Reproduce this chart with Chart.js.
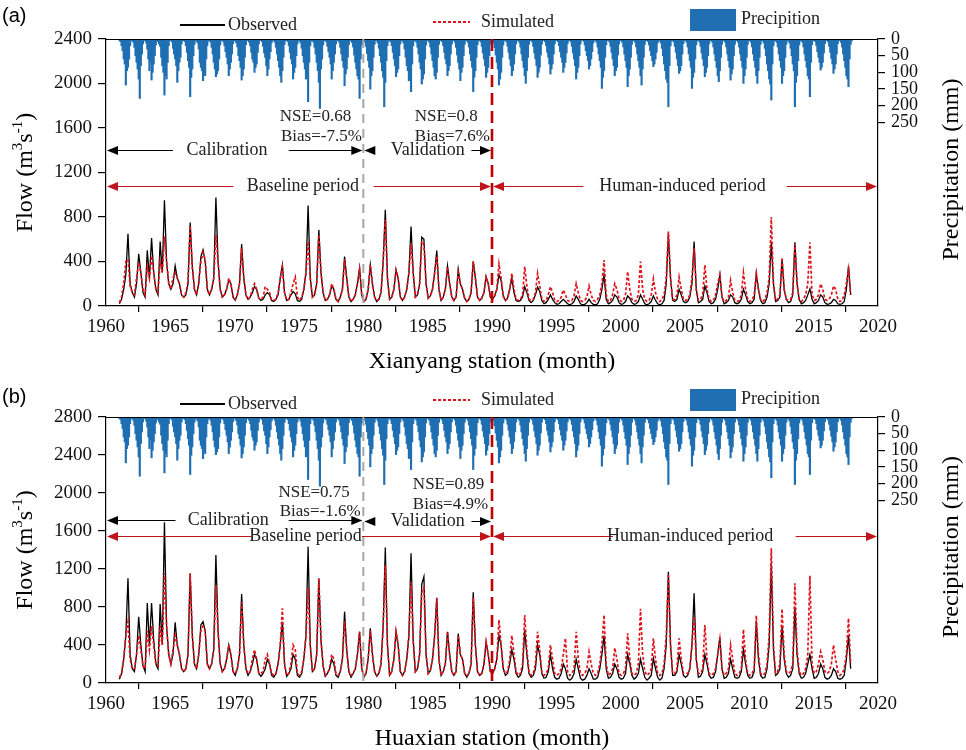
<!DOCTYPE html>
<html lang="en">
<head>
<meta charset="UTF-8">
<title>Observed vs simulated flow - Xianyang and Huaxian</title>
<style>
  body { margin: 0; background: #fff; }
  canvas { display: block; }
</style>
</head>
<body>
<canvas id="xianyangChart" width="966" height="375"></canvas>
<canvas id="huaxianChart" width="966" height="375"></canvas>

<script src="https://cdn.jsdelivr.net/npm/chart.js"></script>
<script>
  // monthly series from 1961 to 2017; flows read every second month
  const firstYear = 1961;
  const flowMonths = [0, 2, 4, 6, 8, 10];
  const yearTicks = [1960, 1965, 1970, 1975, 1980, 1985, 1990, 1995, 2000, 2005, 2010, 2015, 2020];
  const flowTicksXianyang = [0, 400, 800, 1200, 1600, 2000, 2400];
  const flowTicksHuaxian = [0, 400, 800, 1200, 1600, 2000, 2400, 2800];
  const precipTicks = [0, 50, 100, 150, 200, 250];

  const obsXianyang = [
    // 1961-1970
    20,60,150,280,650,200, 120,80,200,470,300,120, 80,500,250,610,300,150, 100,580,300,950,400,200,
    150,200,360,250,200,100, 80,100,200,750,350,150, 100,200,444,504,400,150, 100,150,250,975,400,150,
    80,100,150,234,200,80, 50,100,200,558,250,100,
    // 1971-1980
    60,80,120,174,150,70, 50,60,100,120,100,50, 40,60,100,250,369,120, 50,60,100,130,110,50,
    40,60,150,300,903,250, 80,100,200,684,300,120, 50,60,100,180,150,60, 40,80,150,444,250,80,
    40,60,100,200,342,100, 40,60,150,369,200,80,
    // 1981-1990
    40,60,120,400,864,250, 60,80,150,324,250,80, 50,80,150,300,714,300, 80,100,200,618,600,200,
    70,90,150,300,498,150, 50,80,150,360,200,80, 50,80,330,200,150,70, 40,60,120,402,250,80,
    50,70,120,264,200,80, 60,90,150,280,230,90,
    // 1991-2000
    50,70,150,250,120,50, 40,50,80,174,120,50, 30,50,100,170,130,50, 20,30,60,100,60,30,
    15,20,40,60,40,20, 10,20,40,90,60,20, 10,15,30,60,30,15, 10,20,60,150,280,60,
    20,30,50,100,80,30, 15,20,40,90,70,30,
    // 2001-2010
    15,20,40,100,60,20, 10,20,40,90,50,20, 10,20,50,200,651,250, 50,40,60,150,100,40,
    30,40,80,200,579,150, 30,40,60,180,120,40, 20,30,60,150,279,80, 20,30,50,100,80,30,
    20,30,60,150,100,40, 20,30,60,290,150,50,
    // 2011-2017
    20,30,80,200,570,200, 40,50,80,420,150,60, 30,40,100,573,200,60, 20,30,50,100,153,60,
    20,30,50,100,80,30, 15,20,30,60,50,20, 15,20,40,150,360,100
  ];

  const simXianyang = [
    // 1961-1970
    30,80,200,400,420,180, 120,100,250,390,300,150, 100,350,250,450,300,150, 120,400,300,624,400,200,
    150,250,300,250,200,100, 80,120,220,720,350,150, 100,220,400,480,420,150, 100,150,250,639,400,150,
    80,100,150,250,200,80, 60,100,200,520,250,100,
    // 1971-1980
    60,80,150,200,150,70, 60,80,174,150,120,50, 50,60,120,250,350,120, 50,60,120,200,260,80,
    50,80,150,300,579,250, 80,100,200,640,300,120, 50,60,100,200,150,60, 40,80,150,420,250,80,
    40,60,100,200,330,100, 40,60,150,370,200,80,
    // 1981-1990
    50,60,120,400,774,250, 60,80,150,324,250,80, 50,80,150,300,564,300, 80,100,200,580,550,200,
    70,90,150,300,450,150, 50,80,150,350,200,80, 50,80,300,200,150,70, 40,60,120,400,250,80,
    50,70,120,260,200,80, 60,90,150,378,250,90,
    // 1991-2000
    50,70,150,294,150,60, 50,60,100,354,180,60, 50,60,120,294,180,60, 40,50,100,174,120,50,
    40,50,80,144,100,50, 40,50,90,200,120,50, 40,50,80,180,100,50, 40,60,100,200,414,100,
    40,50,100,200,150,60, 40,50,100,309,150,60,
    // 2001-2010
    40,50,100,399,150,60, 40,50,100,243,120,60, 40,60,100,250,669,250, 60,60,100,261,150,60,
    50,60,100,250,519,150, 50,60,100,369,150,60, 40,50,100,200,282,80, 40,50,80,230,120,50,
    40,50,100,300,150,60, 40,50,100,291,150,60,
    // 2011-2017
    40,60,120,250,798,200, 50,60,100,435,150,60, 50,60,120,560,200,60, 40,60,100,200,573,100,
    50,60,100,200,150,60, 50,60,100,180,150,60, 40,50,100,200,330,100
  ];

  const obsHuaxian = [
    // 1961-1970
    40,100,250,500,1102,300, 150,120,300,698,400,180, 120,842,400,842,450,200, 150,832,400,1692,600,300,
    200,300,640,400,300,150, 120,150,300,1155,500,200, 150,300,611,645,550,200, 150,200,350,1348,550,200,
    120,150,250,400,300,120, 80,150,300,937,400,150,
    // 1971-1980
    80,120,200,300,250,100, 70,100,150,250,200,80, 60,100,200,400,645,200, 70,100,150,300,250,80,
    60,100,250,500,1435,400, 120,150,300,1102,450,180, 70,100,150,250,200,80, 60,120,250,751,350,120,
    60,100,150,300,540,150, 60,100,250,576,300,120,
    // 1981-1990
    70,100,200,600,1425,400, 80,120,250,540,400,120, 80,120,250,500,1365,450, 120,150,300,1042,1120,300,
    100,130,250,500,898,250, 80,120,200,540,300,120, 80,120,520,300,250,100, 60,100,200,955,400,120,
    80,100,200,430,300,120, 100,150,250,500,400,150,
    // 1991-2000
    80,100,200,350,250,100, 60,80,150,550,300,100, 60,80,150,400,300,100, 50,60,120,300,150,60,
    40,50,100,200,150,50, 30,50,100,250,150,50, 30,40,80,150,100,40, 40,60,150,300,500,150,
    50,60,100,200,150,60, 40,50,100,300,200,80,
    // 2001-2010
    40,60,100,250,150,60, 30,50,80,260,150,60, 30,50,150,400,1172,400, 80,80,120,300,200,80,
    60,80,150,400,944,250, 60,70,120,300,200,80, 50,60,120,300,480,150, 50,60,100,250,150,60,
    50,60,120,350,200,80, 50,60,120,650,250,80,
    // 2011-2017
    50,60,150,400,1250,350, 80,100,150,600,250,100, 60,80,150,800,300,100, 50,60,100,200,300,150,
    50,60,100,200,150,60, 40,50,80,150,120,50, 40,50,80,250,500,150
  ];

  const simHuaxian = [
    // 1961-1970
    60,100,250,500,645,250, 150,150,300,500,350,180, 150,550,350,600,400,200, 180,600,400,1155,600,300,
    200,350,500,400,300,150, 120,150,300,1150,500,200, 150,300,550,600,550,200, 150,200,350,1032,550,200,
    120,150,250,400,300,120, 100,150,300,850,400,150,
    // 1971-1980
    100,120,250,350,250,100, 100,120,250,300,200,100, 80,100,200,400,786,200, 80,100,200,400,350,100,
    80,120,250,500,1000,400, 120,150,300,1100,450,180, 80,100,150,300,250,100, 80,120,250,650,350,120,
    80,100,150,300,540,150, 80,100,250,550,300,120,
    // 1981-1990
    80,100,200,600,1240,400, 80,120,250,540,400,120, 80,120,250,500,1060,450, 120,150,300,950,1000,300,
    100,130,250,500,890,250, 80,120,200,540,300,120, 80,120,500,300,250,100, 80,100,200,900,400,120,
    80,100,200,430,300,120, 100,150,250,663,400,150,
    // 1991-2000
    100,120,250,500,300,120, 80,100,200,716,350,120, 80,100,200,540,350,120, 80,100,150,400,250,100,
    80,100,150,300,470,120, 80,100,150,540,250,100, 80,100,150,330,200,100, 80,100,200,400,716,200,
    80,100,150,370,250,100, 80,100,150,523,250,100,
    // 2001-2010
    80,100,200,780,300,120, 80,100,150,470,250,100, 80,100,200,500,1150,400, 100,100,150,470,250,100,
    100,100,150,400,700,250, 100,100,150,611,250,100, 80,100,150,300,460,150, 80,100,150,400,250,100,
    80,100,150,565,250,100, 80,100,150,709,300,100,
    // 2011-2017
    80,100,200,500,1418,400, 100,120,200,780,300,120, 100,120,200,1049,350,120, 80,100,150,300,1130,200,
    100,120,200,330,250,120, 100,120,200,400,250,120, 80,100,150,300,681,200
  ];

  // monthly precipitation (mm), Jan..Dec for each year
  const precipMonthly = [
    4,8,20,35,60,75,138,95,85,60,20,5,   6,10,25,50,70,90,120,178,80,45,15,4,
    5,12,30,60,95,70,123,100,75,50,18,6, 8,15,22,55,80,100,168,110,120,70,20,5,
    4,9,28,45,60,80,130,95,70,55,15,5,   5,8,20,40,65,85,173,115,90,50,16,4,
    7,12,30,70,85,95,125,100,110,60,20,6, 5,10,25,45,70,90,113,105,95,60,18,5,
    4,9,20,38,55,75,110,90,70,45,14,4,   6,11,24,50,65,85,123,110,90,55,17,5,
    5,10,20,40,60,70,100,85,75,40,15,4,  4,8,22,42,55,80,110,90,60,38,12,4,
    5,10,25,45,65,85,110,130,95,55,16,5, 4,8,20,40,60,75,120,100,85,50,15,4,
    6,12,28,50,70,90,120,110,188,70,20,6, 5,10,25,45,70,95,130,208,90,60,18,5,
    4,9,22,38,55,75,120,95,70,45,15,4,   5,10,25,45,65,85,140,105,90,55,17,5,
    6,11,24,48,70,90,110,120,178,60,18,5, 5,10,22,44,65,85,150,110,95,55,16,5,
    6,12,28,50,70,95,115,203,130,65,20,6, 4,9,20,40,60,80,113,100,90,50,15,4,
    6,12,30,55,80,95,125,110,158,75,20,6, 5,10,25,45,70,90,135,120,105,60,18,5,
    5,10,24,45,65,85,110,120,100,55,16,5, 4,9,20,40,60,75,110,95,80,45,15,4,
    5,10,25,48,70,90,125,100,85,50,16,5, 5,10,24,45,65,85,158,115,95,55,17,5,
    4,9,22,42,60,80,115,100,85,50,15,4,  6,11,26,48,70,90,138,120,100,55,18,5,
    4,9,22,40,60,80,110,95,75,45,15,4,   5,10,24,45,65,85,110,133,95,55,16,5,
    4,9,22,42,60,80,115,100,85,48,15,4,  4,8,20,40,55,75,105,90,75,45,14,4,
    4,8,20,38,55,70,100,85,70,42,14,4,   5,9,22,42,60,80,120,100,85,50,15,4,
    3,7,18,35,50,65,90,80,60,38,12,3,    5,10,24,45,65,85,148,115,95,55,17,5,
    4,9,22,40,60,80,110,95,85,48,15,4,   5,10,24,45,65,85,143,110,90,55,16,5,
    5,10,24,45,65,85,110,138,90,55,16,5, 4,8,18,35,50,65,83,75,60,40,12,3,
    6,12,28,50,75,95,120,130,203,80,20,6, 4,9,22,40,60,80,103,95,80,45,14,4,
    5,10,24,45,65,85,148,115,100,60,17,5, 4,9,22,42,60,80,113,100,85,50,15,4,
    5,10,24,45,65,85,110,128,95,55,16,5, 5,10,24,45,65,85,123,105,90,50,16,5,
    5,10,24,45,65,85,133,110,90,55,16,5, 5,10,24,45,65,85,110,133,95,55,16,5,
    6,12,28,50,75,95,120,135,183,75,20,6, 5,10,24,45,65,85,133,110,95,55,16,5,
    6,12,28,50,75,95,203,130,110,65,18,6, 5,10,24,45,65,85,110,120,173,70,17,5,
    4,8,20,38,55,70,93,85,70,42,14,4,    4,9,22,40,58,75,103,90,75,45,14,4,
    5,10,24,45,65,85,110,120,143,60,16,5
  ];

  const serif = '"Liberation Serif", "Times New Roman", serif';
  const blue = '#1f6fb2';
  const red = '#e0141c';
  const darkRed = '#c0141c';

  function flowPoints(values) {
    return values.map((v, i) => ({
      x: firstYear + Math.floor(i / flowMonths.length) + (flowMonths[i % flowMonths.length] + 0.5) / 12,
      y: v
    }));
  }
  function precipPoints(values) {
    return values.map((v, i) => ({ x: firstYear + Math.floor(i / 12) + (i % 12 + 0.5) / 12, y: v }));
  }

  function arrowHead(ctx, x, y, dir, color) {
    ctx.fillStyle = color;
    ctx.beginPath();
    ctx.moveTo(x, y);
    ctx.lineTo(x - dir * 11, y - 4.5);
    ctx.lineTo(x - dir * 11, y + 4.5);
    ctx.closePath();
    ctx.fill();
  }

  // periods: label with the two line pieces round it, in data units
  function drawPeriod(ctx, X, Y, p) {
    const y = Math.round(Y(p.y)) + 0.5;
    ctx.strokeStyle = p.color;
    ctx.lineWidth = 1.2;
    ctx.beginPath();
    ctx.moveTo(X(p.from) + 2, y); ctx.lineTo(X(p.gap[0]), y);
    ctx.moveTo(X(p.gap[1]), y); ctx.lineTo(X(p.to) - 2, y);
    ctx.stroke();
    arrowHead(ctx, X(p.from) + 1, y, -1, p.color);
    arrowHead(ctx, X(p.to) - 1, y, 1, p.color);
    ctx.fillStyle = '#222';
    ctx.font = '18px ' + serif;
    ctx.textAlign = 'center';
    ctx.textBaseline = 'middle';
    ctx.fillText(p.text, X(p.tx), y);
  }

  function drawFlowTitle(ctx, cx, cy) {
    const big = '24px ' + serif, small = '15px ' + serif;
    const parts = [['Flow (m', big, 0], ['3', small, -10], ['s', big, 0], ['-1', small, -10], [')', big, 0]];
    let total = 0;
    parts.forEach(pt => { ctx.font = pt[1]; total += ctx.measureText(pt[0]).width; });
    ctx.save();
    ctx.translate(cx, cy);
    ctx.rotate(-Math.PI / 2);
    ctx.fillStyle = '#000';
    ctx.textAlign = 'left';
    ctx.textBaseline = 'alphabetic';
    let px = -total / 2;
    parts.forEach(pt => {
      ctx.font = pt[1];
      ctx.fillText(pt[0], px, 8 + pt[2]);
      px += ctx.measureText(pt[0]).width;
    });
    ctx.restore();
  }

  function panelPlugin(cfg) {
    return {
      id: 'panel_' + cfg.tag,
      afterDatasetsDraw(chart) {
        const { ctx, chartArea: a, scales } = chart;
        const X = v => scales.x.getPixelForValue(v);
        const Y = v => scales.y.getPixelForValue(v);
        ctx.save();

        // top frame line
        ctx.strokeStyle = '#000';
        ctx.lineWidth = 1.2;
        ctx.beginPath();
        ctx.moveTo(a.left, a.top + 0.5);
        ctx.lineTo(a.right, a.top + 0.5);
        ctx.stroke();

        // calibration / validation split and baseline / human-induced split
        ctx.setLineDash([9, 6]);
        ctx.strokeStyle = '#a8a8a8';
        ctx.lineWidth = 2;
        ctx.beginPath();
        ctx.moveTo(X(1980), a.top); ctx.lineTo(X(1980), a.bottom);
        ctx.stroke();
        ctx.setLineDash([12, 6]);
        ctx.strokeStyle = '#c00000';
        ctx.lineWidth = 2.6;
        ctx.beginPath();
        ctx.moveTo(X(1990), a.top); ctx.lineTo(X(1990), a.bottom);
        ctx.stroke();
        ctx.setLineDash([]);

        cfg.periods.forEach(p => drawPeriod(ctx, X, Y, p));

        ctx.fillStyle = '#222';
        ctx.font = '17px ' + serif;
        ctx.textAlign = 'left';
        ctx.textBaseline = 'middle';
        cfg.scores.forEach(s => ctx.fillText(s.text, X(s.x), Y(s.y)));

        // legend
        const lg = cfg.legend;
        ctx.strokeStyle = '#000';
        ctx.lineWidth = 2;
        ctx.beginPath();
        ctx.moveTo(180, lg.obsY); ctx.lineTo(225, lg.obsY);
        ctx.stroke();
        ctx.strokeStyle = red;
        ctx.setLineDash([3, 2]);
        ctx.beginPath();
        ctx.moveTo(433, lg.simY); ctx.lineTo(470, lg.simY);
        ctx.stroke();
        ctx.setLineDash([]);
        ctx.fillStyle = blue;
        ctx.fillRect(690, lg.boxTop, 46, 22);
        ctx.fillStyle = '#222';
        ctx.font = '18px ' + serif;
        ctx.fillText('Observed', 228, lg.obsY);
        ctx.fillText('Simulated', 481, lg.simY);
        ctx.fillText('Precipition', 741, lg.boxTop + 10);

        ctx.fillStyle = '#000';
        ctx.font = '20px "Liberation Sans", Arial, sans-serif';
        ctx.fillText(cfg.tag, 2, lg.tagY);

        // axis titles
        ctx.font = '24px ' + serif;
        ctx.textAlign = 'center';
        ctx.fillText(cfg.xTitle, (a.left + a.right) / 2, a.bottom + 56);
        drawFlowTitle(ctx, 24, (a.top + a.bottom) / 2);
        ctx.save();
        ctx.translate(952, (a.top + a.bottom) / 2 - 3);
        ctx.rotate(-Math.PI / 2);
        ctx.font = '24px ' + serif;
        ctx.textAlign = 'center';
        ctx.textBaseline = 'middle';
        ctx.fillText('Precipitation (mm)', 0, 0);
        ctx.restore();

        ctx.restore();
      }
    };
  }

  function makePanel(canvasId, obs, sim, flowTicks, top, bottomHeight, cfg) {
    const tickFont = { family: serif, size: 19 };
    const axisBase = {
      grid: { drawOnChartArea: false, color: '#000', lineWidth: 1.2 },
      border: { color: '#000', width: 1.2 },
      ticks: { color: '#111', font: tickFont, autoSkip: false, maxRotation: 0, callback: v => String(v) }
    };
    return new Chart(document.getElementById(canvasId), {
      type: 'bar',
      data: {
        datasets: [{
          type: 'line',
          label: 'Simulated',
          data: flowPoints(sim),
          yAxisID: 'y',
          borderColor: red,
          borderWidth: 1.7,
          borderDash: [3, 2],
          pointRadius: 0,
          tension: 0,
          order: 1
        }, {
          type: 'line',
          label: 'Observed',
          data: flowPoints(obs),
          yAxisID: 'y',
          borderColor: '#000',
          borderWidth: 1.3,
          pointRadius: 0,
          tension: 0,
          order: 2
        }, {
          type: 'bar',
          label: 'Precipition',
          data: precipPoints(precipMonthly),
          yAxisID: 'yP',
          backgroundColor: blue,
          barThickness: 1.5,
          order: 3
        }]
      },
      options: {
        responsive: false,
        animation: false,
        devicePixelRatio: 1,
        events: [],
        layout: { padding: { top: top, left: 0, right: 0, bottom: 0 } },
        plugins: { legend: { display: false }, tooltip: { enabled: false } },
        scales: {
          x: {
            ...axisBase,
            type: 'linear',
            min: 1960,
            max: 2020,
            offset: false,
            grid: { ...axisBase.grid, tickLength: 6 },
            ticks: { ...axisBase.ticks, padding: 4 },
            afterBuildTicks: s => { s.ticks = yearTicks.map(v => ({ value: v })); },
            afterFit: s => { s.height = bottomHeight; }
          },
          y: {
            ...axisBase,
            position: 'left',
            min: 0,
            max: flowTicks[flowTicks.length - 1],
            grid: { ...axisBase.grid, tickLength: 8 },
            ticks: { ...axisBase.ticks, padding: 6 },
            afterBuildTicks: s => { s.ticks = flowTicks.map(v => ({ value: v })); },
            afterFit: s => { s.width = 106; }
          },
          yP: {
            ...axisBase,
            position: 'right',
            reverse: true,
            min: 0,
            max: 800,
            grid: { ...axisBase.grid, tickLength: 7 },
            ticks: { ...axisBase.ticks, font: { family: serif, size: 18 }, padding: 6 },
            afterBuildTicks: s => { s.ticks = precipTicks.map(v => ({ value: v })); },
            afterFit: s => { s.width = 88; }
          }
        }
      },
      plugins: [panelPlugin(cfg)]
    });
  }

  makePanel('xianyangChart', obsXianyang, simXianyang, flowTicksXianyang, 39, 69, {
    tag: '(a)',
    xTitle: 'Xianyang station (month)',
    legend: { obsY: 25, simY: 22, boxTop: 9, tagY: 16 },
    periods: [
      { text: 'Calibration', y: 1400, from: 1960, to: 1980, gap: [1965.2, 1974.2], tx: 1969.4, color: '#000' },
      { text: 'Validation', y: 1400, from: 1980, to: 1990, gap: [1980.7, 1988.4], tx: 1985.0, color: '#000' },
      { text: 'Baseline period', y: 1080, from: 1960, to: 1990, gap: [1969.9, 1980.8], tx: 1975.3, color: darkRed },
      { text: 'Human-induced period', y: 1080, from: 1990, to: 2020, gap: [1997.1, 2012.9], tx: 2004.8, color: darkRed }
    ],
    scores: [
      { text: 'NSE=0.68', x: 1973.5, y: 1700 },
      { text: 'Bias=-7.5%', x: 1973.6, y: 1520 },
      { text: 'NSE=0.8', x: 1984.0, y: 1700 },
      { text: 'Bias=7.6%', x: 1984.0, y: 1520 }
    ]
  });

  makePanel('huaxianChart', obsHuaxian, simHuaxian, flowTicksHuaxian, 42, 67, {
    tag: '(b)',
    xTitle: 'Huaxian station (month)',
    legend: { obsY: 29, simY: 25, boxTop: 14, tagY: 22 },
    periods: [
      { text: 'Calibration', y: 1720, from: 1960, to: 1980, gap: [1965.4, 1974.2], tx: 1969.5, color: '#000' },
      { text: 'Validation', y: 1710, from: 1980, to: 1990, gap: [1980.7, 1988.4], tx: 1985.0, color: '#000' },
      { text: 'Baseline period', y: 1550, from: 1960, to: 1990, gap: [1971.3, 1979.9], tx: 1975.5, color: darkRed },
      { text: 'Human-induced period', y: 1550, from: 1990, to: 2020, gap: [1999.4, 2013.6], tx: 2005.4, color: darkRed }
    ],
    scores: [
      { text: 'NSE=0.75', x: 1973.4, y: 2010 },
      { text: 'Bias=-1.6%', x: 1973.5, y: 1800 },
      { text: 'NSE=0.89', x: 1983.85, y: 2085 },
      { text: 'Bias=4.9%', x: 1983.85, y: 1874 }
    ]
  });
</script>
</body>
</html>
